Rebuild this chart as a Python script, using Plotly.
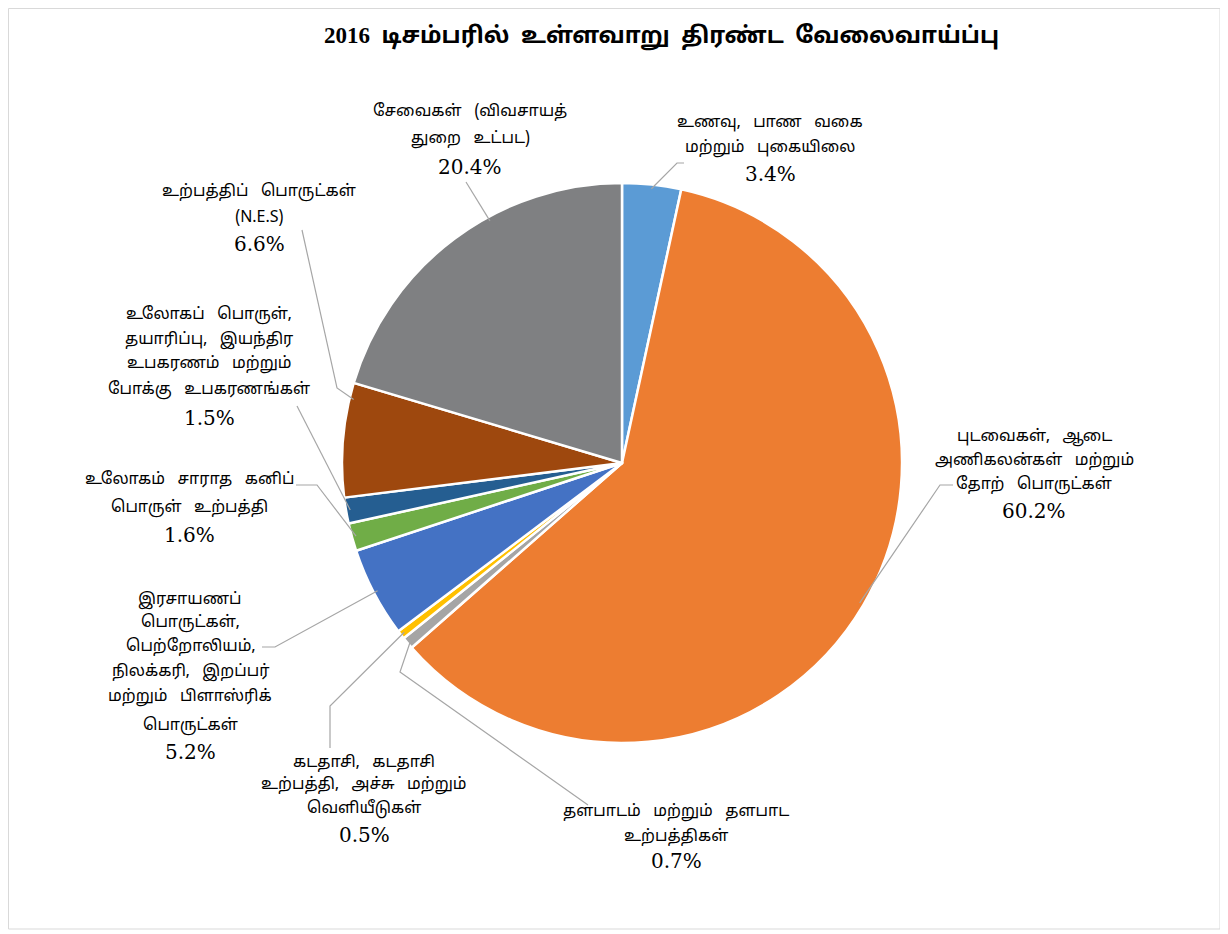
import math
import plotly.graph_objects as go

W, H = 1228, 934
OFF = 8  # page body margin

title = "2016 டிசம்பரில் உள்ளவாறு திரண்ட வேலைவாய்ப்பு"

labels = [
    "உணவு, பாண வகை<br>மற்றும் புகையிலை",
    "புடவைகள், ஆடை<br>அணிகலன்கள் மற்றும்<br>தோற் பொருட்கள்",
    "தளபாடம் மற்றும் தளபாட<br>உற்பத்திகள்",
    "கடதாசி, கடதாசி<br>உற்பத்தி, அச்சு மற்றும்<br>வெளியீடுகள்",
    "இரசாயணப்<br>பொருட்கள்,<br>பெற்றோலியம்,<br>நிலக்கரி, இறப்பர்<br>மற்றும் பிளாஸ்ரிக்<br>பொருட்கள்",
    "உலோகம் சாராத கனிப்<br>பொருள் உற்பத்தி",
    "உலோகப் பொருள்,<br>தயாரிப்பு, இயந்திர<br>உபகரணம் மற்றும்<br>போக்கு உபகரணங்கள்",
    "உற்பத்திப் பொருட்கள்<br>(N.E.S)",
    "சேவைகள் (விவசாயத்<br>துறை உட்பட)",
]
values = [3.4, 60.2, 0.7, 0.5, 5.2, 1.6, 1.5, 6.6, 20.4]
colors = ["#5B9BD5", "#ED7D31", "#A5A5A5", "#FFC000", "#4472C4",
          "#70AD47", "#255E91", "#9E480E", "#7F8082"]

# label layout (page pixels): text centre x, centre y of each line (last one is the %)
label_x = [770, 1034, 676, 364, 190, 189, 209, 259, 470]
label_rows = [
    [123, 148, 174],
    [437, 461, 485, 511],
    [812, 837, 861],
    [763, 785, 809, 835],
    [600, 623, 647, 672, 697, 726, 752],
    [480, 508, 535],
    [315, 340, 364, 390, 418],
    [192, 218, 244],
    [112, 139, 167],
]
lead_frac = [0.5, 0.5, 0.5, 0.5, 0.5, 0.5, 0.5, 0.86, 0.61]
lead_pts = [
    [(677, 163), (684, 163)],
    [(940, 485), (953, 485)],
    [(400, 672), (588, 805)],
    [(330, 706), (330, 748)],
    [(275, 647), (262, 647)],
    [(317, 485), (296, 485)],
    [(297, 406)],
    [(337, 388), (302, 230)],
    [(466, 182)],
]

cx, cy, R = 622, 463, 280


def px(x):
    return (x - OFF) / W


def py(y):
    return 1 - (y - OFF) / H


fig = go.Figure(go.Pie(
    labels=[l.replace("<br>", " ") for l in labels],
    values=values,
    marker=dict(colors=colors, line=dict(color="white", width=2.5)),
    sort=False,
    direction="clockwise",
    rotation=0,
    textinfo="none",
    hoverinfo="label+percent",
    showlegend=False,
    domain=dict(x=[px(cx - R), px(cx + R)], y=[py(cy + R), py(cy - R)]),
))

tamil_font = dict(family="Noto Sans Tamil, Noto Sans, sans-serif", size=16, color="#000")
pct_font = dict(family="DejaVu Serif, serif", size=20, color="#000")

total = sum(values)
cum = 0
shapes = []
annotations = []
for i, v in enumerate(values):
    ang = (cum + v * lead_frac[i]) / total * 2 * math.pi
    cum += v
    ex = cx + R * 0.985 * math.sin(ang)
    ey = cy - R * 0.985 * math.cos(ang)
    pts = [(ex, ey)] + lead_pts[i]
    path = "M " + " L ".join(f"{px(a)},{py(b)}" for a, b in pts)
    shapes.append(dict(type="path", path=path, xref="paper", yref="paper",
                       line=dict(color="#A6A6A6", width=1.2)))
    lines = labels[i].split("<br>") + [f"{v:.1f}%"]
    for j, (txt, yy) in enumerate(zip(lines, label_rows[i])):
        last = j == len(lines) - 1
        annotations.append(dict(
            text=txt if last else txt.replace(" ", " \u00a0\u00a0"),
            x=px(label_x[i]), y=py(yy),
            xref="paper", yref="paper", xanchor="center", yanchor="middle",
            showarrow=False, font=pct_font if last else tamil_font))

annotations.append(dict(
    text=f"<b>{title.replace(' ', ' \u00a0')}</b>", x=px(661), y=py(37), xref="paper", yref="paper",
    xanchor="center", yanchor="middle", showarrow=False,
    font=dict(family="Liberation Serif, Noto Sans Tamil, serif", size=23, color="#000")))

shapes.append(dict(type="rect", xref="paper", yref="paper",
                   x0=px(8.5), x1=px(1220), y0=py(929), y1=py(8.5),
                   line=dict(color="#D9D9D9", width=1)))

fig.update_layout(
    width=W, height=H,
    margin=dict(l=0, r=0, t=0, b=0),
    paper_bgcolor="white",
    plot_bgcolor="white",
    shapes=shapes,
    annotations=annotations,
)

fig.write_html("out.html")
